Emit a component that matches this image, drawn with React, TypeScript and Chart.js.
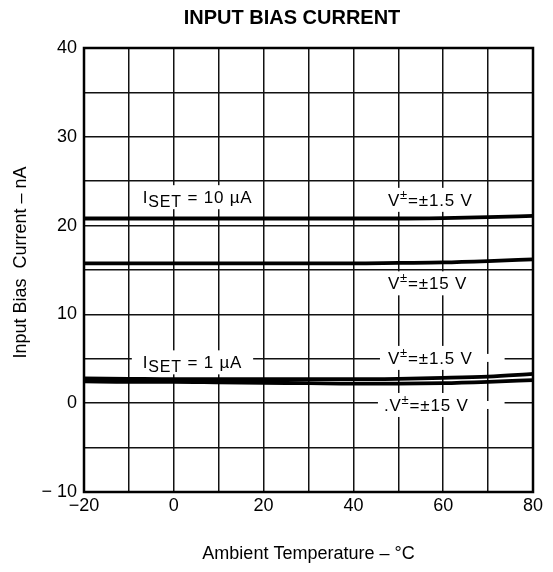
import React, { useEffect, useRef } from 'react';
import { Chart, registerables } from 'chart.js';

Chart.register(...registerables);

// ---- data ----
const temperatures = [-20, -10, 0, 10, 20, 30, 40, 50, 60, 70, 80];
const iset10V1p5 = [20.8, 20.8, 20.8, 20.8, 20.8, 20.8, 20.8, 20.8, 20.85, 20.95, 21.1];
const iset10V15 = [15.75, 15.75, 15.75, 15.75, 15.75, 15.75, 15.75, 15.8, 15.85, 16.0, 16.2];
const iset1V1p5 = [2.8, 2.75, 2.7, 2.7, 2.7, 2.7, 2.7, 2.75, 2.85, 3.0, 3.3];
const iset1V15 = [2.45, 2.4, 2.4, 2.35, 2.3, 2.25, 2.2, 2.2, 2.25, 2.4, 2.6];

const xTickValues = [-20, 0, 20, 40, 60, 80];
const xTickLabels = ['\u221220', '0', '20', '40', '60', '80'];
const yTickValues = [-10, 0, 10, 20, 30, 40];
const yTickLabels = ['\u2212 10', '0', '10', '20', '30', '40'];

const titleText = 'INPUT BIAS CURRENT';
const xTitle = 'Ambient Temperature \u2013 \u00B0C';
const yTitle = '   Input Bias  Current \u2013 nA';

type Part = { t: string; kind?: 'sub' | 'sup' };
const curveLabelTexts: Part[][] = [
  [{ t: 'I' }, { t: 'SET', kind: 'sub' }, { t: ' = 10 \u00B5A' }],
  [{ t: 'V' }, { t: '\u00B1', kind: 'sup' }, { t: '=\u00B11.5 V' }],
  [{ t: 'V' }, { t: '\u00B1', kind: 'sup' }, { t: '=\u00B115 V' }],
  [{ t: 'I' }, { t: 'SET', kind: 'sub' }, { t: ' = 1 \u00B5A' }],
  [{ t: 'V' }, { t: '\u00B1', kind: 'sup' }, { t: '=\u00B11.5 V' }],
  [{ t: '.' }, { t: 'V' }, { t: '\u00B1', kind: 'sup' }, { t: '=\u00B115 V' }],
];
// anchor of each label in data units (left edge temperature, vertical centre current)
const curveLabelX = [-6.9, 47.7, 47.7, -6.9, 47.7, 46.8];
const curveLabelY = [23.2, 22.9, 13.5, 4.6, 5.1, -0.2];

// ---- styles ----
const FONT = '"Liberation Sans", Arial, Helvetica, sans-serif';
const labelPadLeft = [8, 6, 6, 11, 8, 6];
const labelPadRight = [8, 6, 6, 11, 6, 6];
const labelGapRight = [0, 0, 0, 0, 32, 36];

const titlePlugin = {
  id: 'bigTitle',
  afterDraw(chart: any) {
    const { ctx } = chart;
    ctx.save();
    ctx.font = `bold 20px ${FONT}`;
    ctx.fillStyle = '#000';
    ctx.textAlign = 'center';
    ctx.textBaseline = 'middle';
    ctx.fillText(titleText, 292, 18);
    ctx.restore();
  },
};

const curveLabelPlugin = {
  id: 'curveLabels',
  beforeDatasetsDraw(chart: any) {
    const { ctx, scales } = chart;
    const xs = scales.x;
    const ys = scales.y;
    ctx.save();
    curveLabelTexts.forEach((parts, i) => {
      const px = xs.getPixelForValue(curveLabelX[i]);
      const py = ys.getPixelForValue(curveLabelY[i]);
      const fontFor = (p: Part) =>
        p.kind === 'sup' ? `13px ${FONT}` : p.kind === 'sub' ? `16px ${FONT}` : `17px ${FONT}`;
      (ctx as any).letterSpacing = '0.8px';
      let w = 0;
      const widths = parts.map((p) => {
        ctx.font = fontFor(p);
        const m = ctx.measureText(p.t).width;
        w += m;
        return m;
      });
      ctx.fillStyle = '#fff';
      ctx.fillRect(px - labelPadLeft[i], py - 12, w + labelPadLeft[i] + labelPadRight[i], 24);
      if (labelGapRight[i] > 0) {
        ctx.fillRect(px + w, py - 4, labelGapRight[i], 8);
      }
      ctx.fillStyle = '#000';
      ctx.textBaseline = 'alphabetic';
      ctx.textAlign = 'left';
      let cx = px;
      const base = py + 6;
      parts.forEach((p, j) => {
        ctx.font = fontFor(p);
        let by = base;
        if (p.kind === 'sub') by = base + 4;
        if (p.kind === 'sup') by = base - 7;
        ctx.fillText(p.t, cx, by);
        cx += widths[j];
      });
      (ctx as any).letterSpacing = '0px';
    });
    // frame around plot area
    const a = chart.chartArea;
    ctx.strokeStyle = '#000';
    ctx.lineWidth = 2.5;
    ctx.strokeRect(a.left, a.top, a.right - a.left, a.bottom - a.top);
    ctx.restore();
  },
};

export default function App() {
  const canvasRef = useRef<HTMLCanvasElement | null>(null);

  useEffect(() => {
    if (!canvasRef.current) return;
    const line = (data: number[]) => ({
      data: temperatures.map((t, i) => ({ x: t, y: data[i] })),
      borderColor: '#000',
      borderWidth: 3.8,
      pointRadius: 0,
      fill: false,
      cubicInterpolationMode: 'monotone' as const,
    });
    const chart = new Chart(canvasRef.current, {
      type: 'line',
      data: {
        datasets: [line(iset10V1p5), line(iset10V15), line(iset1V1p5), line(iset1V15)],
      },
      options: {
        animation: false,
        responsive: true,
        maintainAspectRatio: false,
        layout: { padding: { left: 0, right: 20, top: 48, bottom: 0 } },
        plugins: {
          legend: { display: false },
          tooltip: { enabled: false },
          title: { display: false },
        },
        scales: {
          x: {
            type: 'linear',
            min: -20,
            max: 80,
            border: { display: false },
            grid: { color: '#111', lineWidth: 1.5, drawTicks: false },
            ticks: {
              stepSize: 10,
              autoSkip: false,
              maxRotation: 0,
              padding: 3,
              color: '#000',
              font: { family: FONT, size: 18 },
              callback: (v: any) => {
                const i = xTickValues.indexOf(Number(v));
                return i >= 0 ? xTickLabels[i] : '';
              },
            },
            title: {
              display: true,
              text: xTitle,
              color: '#000',
              font: { family: FONT, size: 18 },
              padding: { top: 0, bottom: 7 },
            },
            afterFit: (s: any) => {
              s.height = 80;
            },
          },
          y: {
            type: 'linear',
            min: -10,
            max: 40,
            border: { display: false },
            grid: { color: '#111', lineWidth: 1.5, drawTicks: false },
            ticks: {
              stepSize: 5,
              autoSkip: false,
              padding: 7,
              color: '#000',
              font: { family: FONT, size: 18 },
              callback: (v: any) => {
                const i = yTickValues.indexOf(Number(v));
                return i >= 0 ? yTickLabels[i] : '';
              },
            },
            title: {
              display: true,
              text: yTitle,
              color: '#000',
              font: { family: FONT, size: 18 },
              padding: { top: 10, bottom: 0 },
            },
            afterFit: (s: any) => {
              s.width = 84;
            },
          },
        },
      },
      plugins: [curveLabelPlugin, titlePlugin],
    } as any);
    return () => chart.destroy();
  }, []);

  return (
    <div style={{ position: 'fixed', left: 0, top: 0, width: 553, height: 572, background: '#fff' }}>
      <canvas ref={canvasRef} />
    </div>
  );
}
